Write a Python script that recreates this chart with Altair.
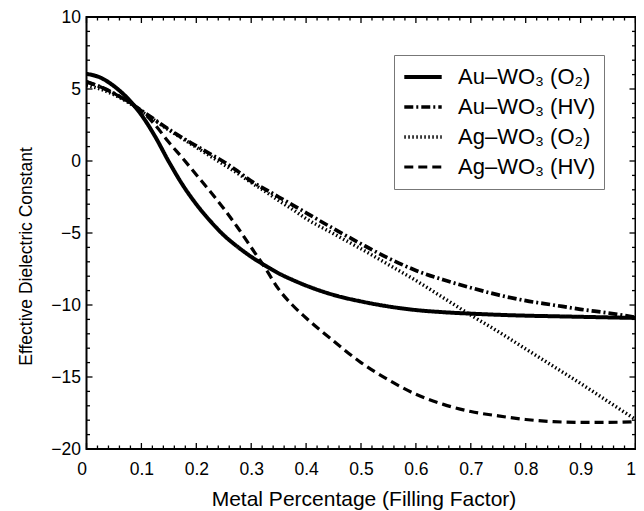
import altair as alt
import pandas as pd

# ---- data ----
filling = [0, 0.025, 0.05, 0.075, 0.1, 0.125, 0.15, 0.175, 0.2, 0.225, 0.25, 0.275,
           0.3, 0.325, 0.35, 0.375, 0.4, 0.45, 0.5, 0.55, 0.6, 0.65, 0.7, 0.75,
           0.8, 0.85, 0.9, 0.95, 1.0]

au_o2 = [6.05, 5.8, 5.2, 4.35, 3.2, 1.7, -0.05, -1.65, -3.0, -4.15, -5.15, -5.95,
         -6.65, -7.25, -7.8, -8.25, -8.65, -9.3, -9.75, -10.1, -10.35, -10.5, -10.6, -10.68,
         -10.74, -10.78, -10.82, -10.86, -10.9]

au_hv = [5.5, 5.15, 4.7, 4.15, 3.5, 2.85, 2.2, 1.6, 1.05, 0.5, -0.05, -0.7,
         -1.4, -1.95, -2.5, -3.05, -3.6, -4.7, -5.75, -6.75, -7.6, -8.25, -8.8, -9.3,
         -9.7, -10.0, -10.3, -10.55, -10.85]

ag_o2 = [5.25, 5.0, 4.6, 4.1, 3.45, 2.8, 2.15, 1.55, 0.95, 0.35, -0.25, -0.85,
         -1.5, -2.1, -2.75, -3.35, -4.0, -5.05, -6.1, -7.2, -8.3, -9.5, -10.7, -11.85,
         -13.05, -14.25, -15.45, -16.7, -17.95]

ag_hv = [5.5, 5.15, 4.7, 4.15, 3.5, 2.5, 1.3, 0.2, -0.95, -2.1, -3.3, -4.6,
         -6.0, -7.4, -8.9, -10.0, -10.9, -12.5, -14.0, -15.2, -16.2, -16.9, -17.4, -17.7,
         -17.95, -18.1, -18.15, -18.15, -18.1]

series_names = ["Au–WO₃ (O₂)", "Au–WO₃ (HV)", "Ag–WO₃ (O₂)", "Ag–WO₃ (HV)"]

x_ticks = [0, 0.1, 0.2, 0.3, 0.4, 0.5, 0.6, 0.7, 0.8, 0.9, 1]
y_ticks = [-20, -15, -10, -5, 0, 5, 10]
x_minor_step = 0.02
y_minor_step = 1

FONT = "Liberation Sans"
W, H = 549, 432

# ---- build tables ----
rows = []
for name, vals in zip(series_names, [au_o2, au_hv, ag_o2, ag_hv]):
    for f, e in zip(filling, vals):
        rows.append({"f": f, "eps": e, "series": name})
df = pd.DataFrame(rows)

# inward tick marks, drawn as rules through the chart's scales
xmaj_len = 6 / (H / 30)
xmin_len = 3.5 / (H / 30)
ymaj_len = 6 / W
ymin_len = 3.5 / W
tick_rows = []
nx = int(round(1 / x_minor_step))
for i in range(nx + 1):
    v = i * x_minor_step
    major = any(abs(v - t) < 1e-9 for t in x_ticks)
    L = xmaj_len if major else xmin_len
    tick_rows.append({"f": v, "f2": v, "eps": -20, "eps2": -20 + L})
    tick_rows.append({"f": v, "f2": v, "eps": 10, "eps2": 10 - L})
for v in range(-20, 11, y_minor_step):
    major = v in y_ticks
    L = ymaj_len if major else ymin_len
    tick_rows.append({"f": 0, "f2": L, "eps": v, "eps2": v})
    tick_rows.append({"f": 1, "f2": 1 - L, "eps": v, "eps2": v})
ticks_df = pd.DataFrame(tick_rows)

xs = alt.Scale(domain=[0, 1], nice=False, zero=False)
ys = alt.Scale(domain=[-20, 10], nice=False, zero=False)

x_axis = alt.Axis(values=x_ticks, format="~g", title="Metal Percentage (Filling Factor)",
                  ticks=False, tickSize=0, domain=False, grid=False,
                  labelFont=FONT, labelFontSize=17.5, labelColor="black", labelPadding=11,
                  labelAlign=alt.ExprRef(expr="datum.value == 0 || datum.value == 1 ? 'right' : 'center'"),
                  titleFont=FONT, titleFontSize=21, titleFontWeight="normal", titleColor="black",
                  titleBaseline="alphabetic", titleX=277, titleY=56)
y_axis = alt.Axis(values=y_ticks, title="Effective Dielectric Constant",
                  ticks=False, tickSize=0, domain=False, grid=False,
                  labelFont=FONT, labelFontSize=17.5, labelColor="black", labelPadding=6,
                  titleFont=FONT, titleFontSize=17.5, titleFontWeight="normal", titleColor="black",
                  titleBaseline="alphabetic", titleX=-55, titleY=239)

ticks = alt.Chart(ticks_df).mark_rule(color="black", strokeWidth=1.3).encode(
    x=alt.X("f:Q", scale=xs, axis=x_axis),
    x2="f2:Q",
    y=alt.Y("eps:Q", scale=ys, axis=y_axis),
    y2="eps2:Q",
)

leg = alt.Legend(
    title=None, orient="none", legendX=307.5, legendY=38,
    fillColor="white", strokeColor="#777777", padding=8,
    labelFont=FONT, labelFontSize=22, labelColor="black",
    labelExpr="datum.label + '\u00a0\u00a0\u00a0'",
    labelOffset=14, symbolType="stroke", symbolSize=1400,
    clipHeight=28, rowPadding=2, labelLimit=400,
)

lines = alt.Chart(df).mark_line(interpolate="monotone", strokeCap="butt", strokeJoin="round").encode(
    x=alt.X("f:Q", scale=xs, axis=x_axis),
    y=alt.Y("eps:Q", scale=ys, axis=y_axis),
    color=alt.Color("series:N", scale=alt.Scale(domain=series_names, range=["black"] * 4), legend=leg),
    strokeDash=alt.StrokeDash("series:N",
                              scale=alt.Scale(domain=series_names,
                                              range=[[1, 0], [9, 3, 2, 3], [1.5, 2.5], [9, 5]]),
                              legend=leg),
    strokeWidth=alt.StrokeWidth("series:N",
                                scale=alt.Scale(domain=series_names, range=[4, 3.2, 1.8, 3.2]),
                                legend=leg),
)

chart = alt.layer(ticks, lines).properties(
    width=W, height=H,
    autosize=alt.AutoSizeParams(type="none"),
    padding={"left": 78.5, "top": 9, "right": 0, "bottom": 62},
    background="white",
).configure_view(
    stroke="black", strokeWidth=2,
)

chart.save("out.html", embed_options={"renderer": "svg", "actions": False})
